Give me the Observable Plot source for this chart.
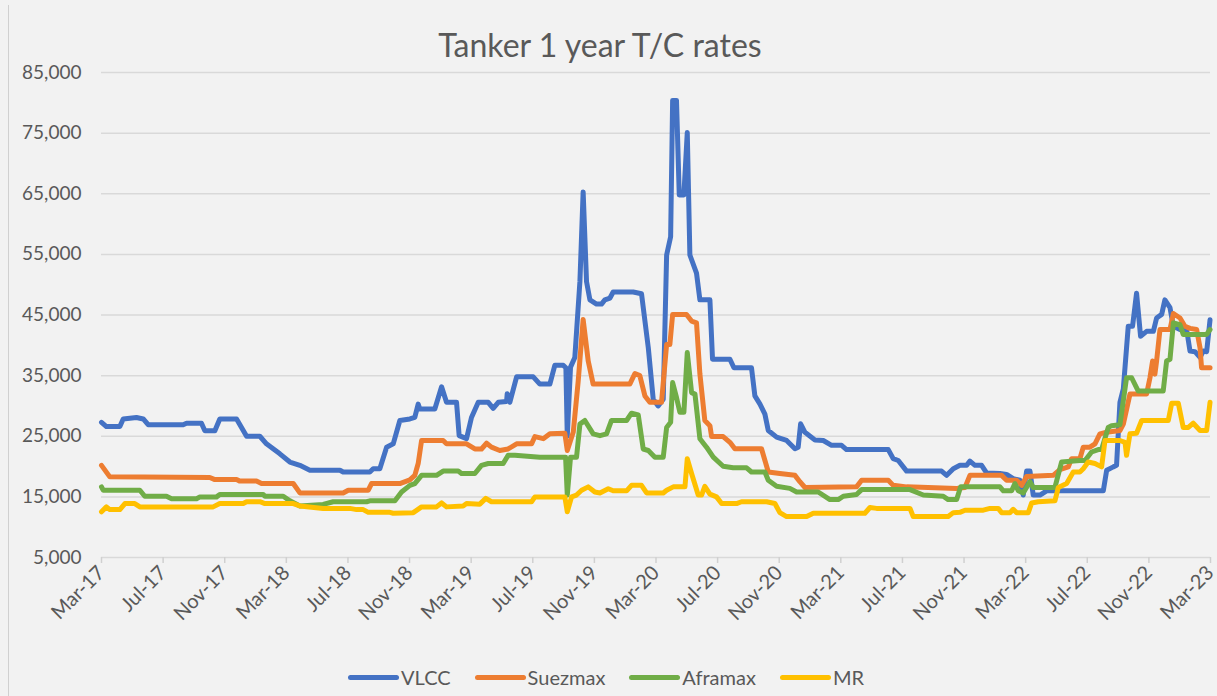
<!DOCTYPE html>
<html>
<head>
<meta charset="utf-8">
<script src="https://cdn.jsdelivr.net/npm/d3@7"></script>
<script src="https://cdn.jsdelivr.net/npm/@observablehq/plot@0.6"></script>
<style>
  html, body { margin: 0; padding: 0; background: #f2f2f2; }
  body { width: 1217px; height: 696px; position: relative; overflow: hidden; font-family: Lato, "Open Sans", sans-serif; color: #595959; }
  #border { position: absolute; left: 8px; top: 5px; bottom: 0; border-left: 1px solid #d0d0d0; }
  #title { position: absolute; left: 0; top: 26px; width: 1200px; text-align: center; font-size: 32px; line-height: 38px; color: #595959; }
  #chart { position: absolute; left: 0; top: 46px; }
  #legend { position: absolute; left: 348px; top: 664px; display: flex; align-items: center; font-size: 20px; line-height: 26px; }
  .item { display: flex; align-items: center; margin-right: 24px; }
  .swatch { width: 51px; height: 5px; border-radius: 3px; margin-right: 2px; }
</style>
</head>
<body>
<div id="border"></div>
<div id="title">Tanker 1 year T/C rates</div>
<div id="chart"></div>
<div id="legend"></div>
<script>
// x = months since Mar-17
const seriesNames = ["VLCC", "Suezmax", "Aframax", "MR"];
const seriesColors = ["#4472C4", "#ED7D31", "#70AD47", "#FFC000"];
const xTickMonths = [0,4,8,12,16,20,24,28,32,36,40,44,48,52,56,60,64,68,72];
const xTickLabels = ["Mar-17","Jul-17","Nov-17","Mar-18","Jul-18","Nov-18","Mar-19","Jul-19","Nov-19","Mar-20","Jul-20","Nov-20","Mar-21","Jul-21","Nov-21","Mar-22","Jul-22","Nov-22","Mar-23"];
const yTicks = [5000,15000,25000,35000,45000,55000,65000,75000,85000];

const vlcc = [[0,27300],[0.32,26600],[1.19,26600],[1.41,27850],[2.27,28100],[2.71,27850],[3.03,26900],[5.30,26900],[5.52,27150],[6.49,27150],[6.71,25900],[7.36,25900],[7.68,27850],[8.77,27850],[9.42,25000],[10.28,25000],[10.71,23750],[11.58,22100],[12.23,20750],[12.88,20200],[13.53,19400],[15.48,19400],[15.69,19100],[17.42,19100],[17.64,19650],[18.07,19650],[18.51,23200],[18.94,23750],[19.37,27600],[20.02,27850],[20.34,28100],[20.56,30300],[20.67,29500],[21.64,29500],[22.08,33150],[22.40,30600],[23.05,30600],[23.22,25100],[23.70,24600],[24.02,28100],[24.46,30600],[25.11,30600],[25.43,29600],[25.76,30600],[26.30,30750],[26.34,32000],[26.51,30600],[26.95,34800],[28.03,34800],[28.46,33600],[29.11,33600],[29.43,36700],[29.98,36700],[30.15,36300],[30.24,25000],[30.45,36400],[30.73,38000],[31.06,50500],[31.27,65300],[31.49,50500],[31.71,47500],[32.14,46800],[32.46,46800],[32.68,47500],[33.01,47800],[33.22,48800],[34.52,48800],[35.06,48500],[35.50,39600],[35.82,31100],[36.14,30000],[36.47,31100],[36.69,54900],[36.95,57900],[37.08,80400],[37.33,80400],[37.51,64800],[37.81,64800],[38.03,75100],[38.20,54900],[38.63,51900],[38.85,47500],[39.50,47500],[39.67,37700],[40.80,37700],[41.06,36300],[42.20,36300],[42.42,31650],[42.75,30300],[43.07,28650],[43.29,25950],[43.83,24850],[44.48,24300],[45.02,22950],[45.23,23200],[45.39,27050],[45.67,25650],[46.32,24400],[46.86,24300],[47.40,23500],[48.05,23500],[48.37,22800],[51.08,22800],[51.40,21300],[51.73,21000],[52.27,19250],[54.54,19250],[54.87,18550],[55.30,19650],[55.73,20200],[56.17,20200],[56.38,20900],[56.71,20200],[57.14,20200],[57.46,18950],[58.33,18850],[58.76,18700],[59.19,18000],[59.63,17750],[59.84,15300],[60.06,19250],[60.28,19250],[60.49,15300],[60.93,15300],[61.36,16000],[65.04,16000],[65.26,19400],[65.69,19950],[65.90,20200],[66.12,30600],[66.34,32800],[66.66,43150],[66.94,43150],[67.20,48600],[67.46,41500],[67.85,42300],[68.29,42300],[68.50,44500],[68.83,45100],[69.04,47500],[69.37,46200],[69.59,43150],[70.02,42600],[70.45,42600],[70.67,39050],[70.99,38950],[71.32,38000],[71.53,39050],[71.75,38950],[71.97,44200]];

const suezmax = [[0,20200],[0.54,18300],[7.03,18200],[7.36,17850],[8.77,17850],[8.98,17600],[10.06,17600],[10.39,17200],[12.45,17200],[12.88,15650],[15.69,15650],[16.02,16100],[17.32,16100],[17.53,17200],[19.37,17200],[20.02,17800],[20.34,18550],[20.56,20500],[20.78,24300],[22.18,24300],[22.40,23750],[23.70,23750],[24.24,22900],[24.67,22900],[25.00,23850],[25.32,23200],[25.86,22650],[26.40,22900],[26.95,23750],[27.92,23750],[28.14,24950],[28.68,24600],[29.11,25400],[30.08,25500],[30.24,22650],[30.63,25700],[30.95,34100],[31.27,44250],[31.60,37400],[31.92,33600],[34.30,33600],[34.63,35350],[34.95,35000],[35.28,31650],[35.60,30600],[36.36,30600],[36.69,40150],[36.90,40150],[37.08,45100],[37.98,45100],[38.31,44000],[38.63,43700],[38.85,35250],[39.17,27600],[39.50,26750],[39.61,24950],[40.36,24950],[40.80,24000],[41.12,22950],[42.85,22950],[43.29,19100],[44.04,18850],[45.02,18550],[45.34,17500],[45.67,16550],[49.02,16650],[49.35,17750],[51.08,17750],[51.40,16900],[52.27,16650],[55.52,16400],[56.06,16550],[56.38,18550],[58.44,18550],[58.76,17750],[59.41,17750],[59.74,16900],[60.06,18350],[61.79,18550],[62.22,19500],[62.77,19950],[62.98,21300],[63.52,21300],[63.74,23200],[64.17,23200],[64.50,23750],[64.82,25400],[65.26,25650],[66.12,25950],[66.34,27000],[66.77,31950],[67.85,31950],[68.07,34650],[68.24,37400],[68.39,35250],[68.50,37400],[68.72,42600],[69.37,42600],[69.59,45250],[70.02,44500],[70.34,43150],[70.67,42800],[71.10,42600],[71.32,39600],[71.42,36300],[71.97,36300]];

const aframax = [[0,16650],[0.11,16100],[2.49,16100],[2.81,15100],[4.22,15100],[4.55,14700],[6.17,14700],[6.39,15000],[7.47,15000],[7.68,15400],[10.50,15400],[10.61,15100],[11.80,15100],[12.23,14350],[12.88,13500],[14.39,13750],[15.04,14200],[17.21,14200],[17.42,14350],[19.05,14350],[19.48,15800],[20.02,16900],[20.34,17200],[20.78,18550],[21.75,18550],[22.18,19250],[23.16,19250],[23.37,18850],[24.24,18850],[24.67,20200],[25.11,20500],[26.08,20500],[26.40,21850],[26.84,21850],[28.46,21550],[30.13,21550],[30.24,15300],[30.45,21550],[30.84,21550],[31.06,27000],[31.38,27600],[31.92,25400],[32.36,25100],[32.79,25400],[33.11,27600],[34.09,27600],[34.41,28800],[34.85,28500],[35.17,22900],[35.50,22650],[35.93,21550],[36.47,21550],[36.69,26450],[36.95,27300],[37.08,33850],[37.33,31400],[37.55,28950],[37.81,28950],[38.03,38800],[38.31,32200],[38.53,31950],[38.85,24600],[39.28,23200],[39.72,21550],[40.36,20050],[41.01,19800],[41.88,19800],[42.20,19100],[43.07,19100],[43.29,17750],[43.83,16750],[44.69,16400],[45.13,15800],[46.53,15800],[47.29,14550],[47.83,14550],[48.16,15100],[49.02,15400],[49.35,16200],[52.49,16200],[53.35,15300],[54.65,15100],[54.97,14550],[55.52,14550],[55.78,16650],[58.33,16650],[58.55,16000],[59.09,16000],[59.30,17200],[59.52,16000],[59.84,15650],[60.28,17500],[60.49,16550],[61.90,16550],[62.33,20750],[63.52,21000],[63.85,21000],[64.28,22400],[64.71,22800],[64.93,22800],[65.36,26450],[65.58,26750],[66.12,26900],[66.55,34650],[66.88,34650],[67.31,32450],[68.93,32450],[69.15,37400],[69.37,37700],[69.59,43700],[70.02,43400],[70.23,41800],[71.75,41800],[71.97,42600]];

const mr = [[0,12550],[0.32,13350],[0.54,12900],[1.19,12900],[1.52,13900],[2.16,13900],[2.49,13350],[7.25,13350],[7.68,13900],[9.20,13900],[9.42,14200],[10.28,14200],[10.61,13900],[12.45,13900],[12.88,13500],[14.39,13100],[16.13,13100],[16.56,12900],[16.99,12900],[17.32,12450],[18.72,12450],[18.94,12300],[20.24,12400],[20.78,13350],[21.75,13350],[22.08,14000],[22.40,13350],[23.48,13500],[23.70,13900],[24.56,13800],[24.95,14750],[25.32,14200],[27.92,14200],[28.14,15000],[30.08,15000],[30.24,12550],[30.52,15000],[30.84,15300],[31.17,16100],[31.60,16650],[32.03,15800],[32.36,15650],[32.90,16350],[33.22,16000],[34.09,16000],[34.41,16900],[35.06,16900],[35.39,15650],[36.47,15650],[36.69,16100],[37.12,16650],[37.88,16650],[38.03,21300],[38.31,18850],[38.74,15300],[38.96,15300],[39.17,16750],[39.50,15450],[39.93,15000],[40.26,13900],[41.23,13900],[41.55,14200],[43.18,14200],[43.72,13900],[44.04,12400],[44.48,11750],[45.78,11750],[46.21,12300],[49.56,12300],[49.89,13250],[50.32,13100],[52.49,13100],[52.70,11750],[54.97,11750],[55.30,12400],[55.73,12450],[56.06,12800],[57.25,12800],[57.68,13100],[58.22,13100],[58.44,12400],[58.98,12400],[59.19,12950],[59.41,12400],[60.17,12400],[60.39,14000],[60.82,14200],[61.90,14350],[62.12,16550],[62.66,17200],[63.09,19100],[63.52,19100],[63.74,19650],[64.06,20750],[64.50,20500],[64.93,19950],[65.15,24300],[66.12,24300],[66.45,24000],[66.55,21850],[66.77,25400],[67.20,25500],[67.53,27600],[69.26,27600],[69.48,30450],[69.91,30450],[70.23,26450],[70.56,26450],[70.88,27150],[71.32,25950],[71.75,25950],[71.97,30600]];

const seriesData = [vlcc, suezmax, aframax, mr];
const rows = [];
seriesData.forEach((arr, i) => arr.forEach(([m, v]) => rows.push({series: seriesNames[i], m, v})));

const chart = Plot.plot({
  width: 1217,
  height: 606,
  marginTop: 26,
  marginBottom: 95,
  marginLeft: 101,
  marginRight: 7,
  style: { background: "transparent", fontFamily: "Lato, 'Open Sans', sans-serif", color: "#595959" },
  x: { domain: [0, 72] },
  y: { domain: [5000, 85000] },
  color: { domain: seriesNames, range: seriesColors },
  marks: [
    Plot.gridY(yTicks, { stroke: "#d9d9d9", strokeOpacity: 1, strokeWidth: 1.5 }),
    Plot.axisY(yTicks, { tickSize: 0, tickPadding: 20, fontSize: 19, fill: "#595959", tickFormat: d3.format(","), label: null }),
    Plot.axisX(xTickMonths, { tickSize: 6, stroke: "#d0d0d0", strokeWidth: 1.5, tickRotate: -45, tickPadding: 6, fontSize: 20, fill: "#595959", tickFormat: d => xTickLabels[xTickMonths.indexOf(d)], label: null }),
    Plot.line(rows, { x: "m", y: "v", z: "series", stroke: "series", strokeWidth: 5, strokeLinejoin: "round", strokeLinecap: "round" })
  ]
});
document.getElementById("chart").appendChild(chart);

const legend = document.getElementById("legend");
seriesNames.forEach((name, i) => {
  const item = document.createElement("div");
  item.className = "item";
  const sw = document.createElement("div");
  sw.className = "swatch";
  sw.style.background = seriesColors[i];
  const t = document.createElement("span");
  t.textContent = name;
  item.appendChild(sw);
  item.appendChild(t);
  legend.appendChild(item);
});
</script>
</body>
</html>
